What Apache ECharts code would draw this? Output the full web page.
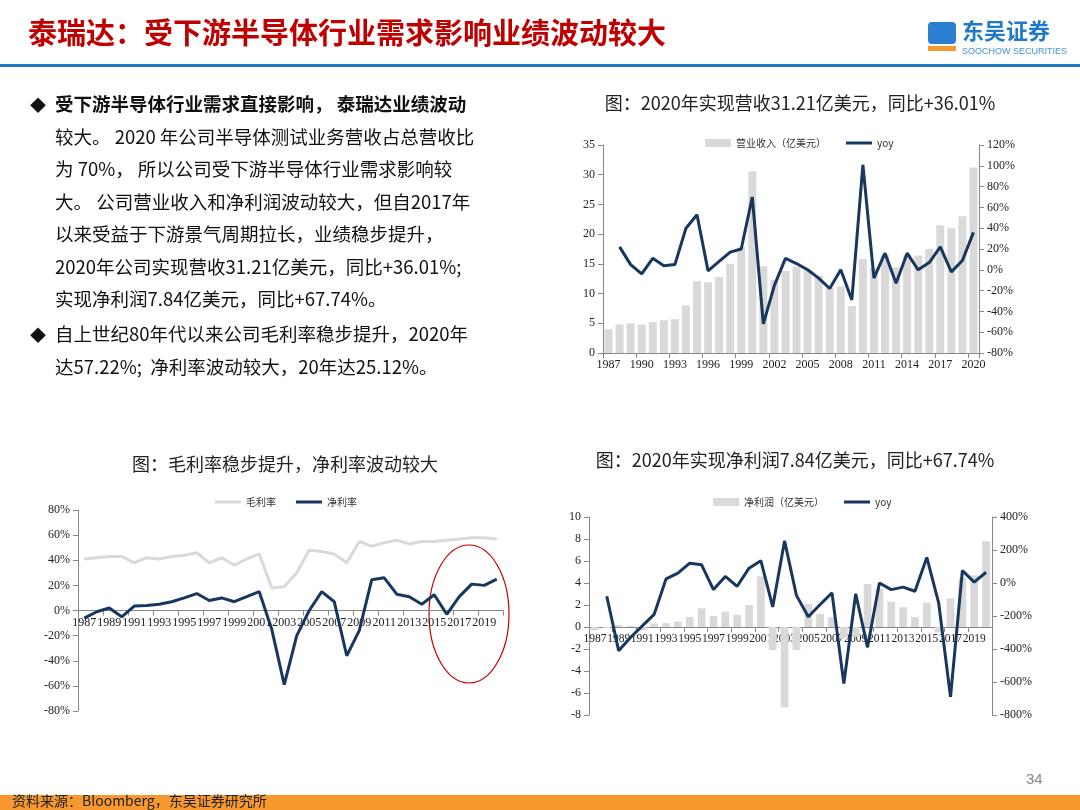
<!DOCTYPE html>
<html>
<head>
<meta charset="utf-8">
<script src="https://cdn.jsdelivr.net/npm/echarts@6/dist/echarts.min.js"></script>
<style>
html,body{margin:0;padding:0;background:#fff;}
#main{width:1080px;height:810px;}
</style>
</head>
<body>
<div id="main"></div>
<script>
var years = [];
for (var y = 1987; y <= 2020; y++) { years.push(String(y)); }

// 营业收入（亿美元）与 yoy
var revenue = [4.0,4.8,5.0,4.8,5.2,5.5,5.7,8.0,12.1,11.9,12.8,15.0,17.8,30.6,14.6,12.3,13.8,14.6,14.0,13.0,11.0,11.2,7.9,15.8,14.3,16.6,14.4,16.5,16.4,17.5,21.5,21.0,23.0,31.2];
var revenueYoy = [22,5,-4,11,4,5,40,53,-1,8,17,20,70,-52,-15,11,6,0,-8,-18,0,-29,101,-8,16,-13,16,0,7,22,-2,9,36];

// 毛利率 / 净利率
var grossMargin = [41,42,43,43,38,42,41,43,44,46,38,42,36,41,45,18,19,30,48,47,45,38,55,51,54,56,53,55,55,56,57,58,58,57];
var netMargin = [-6,-1,2,-5,3.5,4,5,7,10,13.5,8,10,7,11,15,-15,-59,-20,0,15,7,-36,-16,24.5,26,13,11,5,12.5,-3,11,21,20,25];

// 净利润（亿美元）与 yoy
var netProfit = [-0.3,-0.1,0.2,0.1,-0.3,0.3,0.35,0.5,0.9,1.7,1.0,1.4,1.1,2.0,4.6,-2.1,-7.3,-2.1,2.1,1.2,0.9,-1.0,-0.9,3.9,3.5,2.3,1.8,0.9,2.2,-0.5,2.6,4.5,4.7,7.8];
var profitYoy = [-80,-410,-330,-260,-190,25,60,120,110,-40,40,-20,90,135,-145,255,-75,-205,-130,-60,-610,-65,-390,0,-40,-25,-50,155,-120,-690,75,5,65];

var serif = '"Liberation Serif","Times New Roman",serif';
var cjk = '"Noto Sans CJK SC",sans-serif';
var navy = '#17375e';
var barGray = '#d9d9d9';
var lineGray = '#d9d9d9';
var lineIcon = 'path://M0,0L26,0L26,3L0,3Z';

var bulletLines = [
    ['◆', 108, '受下游半导体行业需求直接影响， 泰瑞达业绩波动', true],
    ['', 141, '较大。 2020 年公司半导体测试业务营收占总营收比', false],
    ['', 173, '为 70%， 所以公司受下游半导体行业需求影响较', false],
    ['', 206, '大。 公司营业收入和净利润波动较大，但自2017年', false],
    ['', 238, '以来受益于下游景气周期拉长，业绩稳步提升，', false],
    ['', 271, '2020年公司实现营收31.21亿美元，同比+36.01%;', false],
    ['', 303, '实现净利润7.84亿美元，同比+67.74%。', false],
    ['◆', 338, '自上世纪80年代以来公司毛利率稳步提升，2020年', false],
    ['', 371, '达57.22%;  净利率波动较大，20年达25.12%。', false]
];

var graphics = [
    {type: 'text', x: 28, y: 18, style: {text: '泰瑞达：受下游半导体行业需求影响业绩波动较大', font: 'bold 29px ' + cjk, fill: '#c00000'}},
    {type: 'rect', shape: {x: 0, y: 64, width: 1080, height: 3}, style: {fill: '#1f78c8'}},
    {type: 'text', x: 962, y: 20, style: {text: '东吴证券', font: 'bold 22px ' + cjk, fill: '#1f78c8'}},
    {type: 'text', x: 962, y: 47, style: {text: 'SOOCHOW SECURITIES', font: '9px "Liberation Sans",sans-serif', fill: '#4a90d0'}},
    {type: 'rect', shape: {x: 928, y: 22, width: 28, height: 22, r: 4}, style: {fill: '#2b7fd0'}},
    {type: 'rect', shape: {x: 928, y: 46, width: 28, height: 5}, style: {fill: '#f7992e'}},
    {type: 'rect', shape: {x: 0, y: 795, width: 1080, height: 15}, style: {fill: '#f7992e'}},
    {type: 'text', x: 12, y: 794, style: {text: '资料来源：Bloomberg，东吴证券研究所', font: '14px ' + cjk, fill: '#222'}},
    {type: 'text', x: 1026, y: 772, style: {text: '34', font: '15px "Liberation Sans",sans-serif', fill: '#888'}},
    {type: 'text', x: 800, y: 94, style: {text: '图：2020年实现营收31.21亿美元，同比+36.01%', font: '18px ' + cjk, fill: '#222', align: 'center'}},
    {type: 'text', x: 285, y: 455, style: {text: '图：毛利率稳步提升，净利率波动较大', font: '18px ' + cjk, fill: '#222', align: 'center'}},
    {type: 'text', x: 795, y: 451, style: {text: '图：2020年实现净利润7.84亿美元，同比+67.74%', font: '18px ' + cjk, fill: '#222', align: 'center'}},
    {type: 'ellipse', shape: {cx: 469, cy: 614, rx: 40, ry: 69}, style: {fill: 'none', stroke: '#c00000', lineWidth: 1.2}}
];
bulletLines.forEach(function (l) {
    if (l[0]) {
        graphics.push({type: 'text', x: 30, y: l[1] - 11, style: {text: l[0], font: '16px ' + cjk, fill: '#111'}});
    }
    graphics.push({type: 'text', x: 55, y: l[1] - 13, style: {text: l[2], font: (l[3] ? 'bold ' : '') + '18.5px ' + cjk, fill: '#111'}});
});

// offset moves the category axis up to the zero line
function catAxis(idx, interval, offset, size) {
    return {
        type: 'category', gridIndex: idx, data: years, offset: offset,
        axisLine: {onZero: false, lineStyle: {color: '#888'}},
        axisTick: {show: true, lineStyle: {color: '#888'}},
        axisLabel: {interval: interval, showMinLabel: true, hideOverlap: false, color: '#222', fontFamily: serif, fontSize: size, margin: 6}
    };
}
function valAxis(idx, min, max, step, fmt, pos) {
    return {
        type: 'value', gridIndex: idx, min: min, max: max, interval: step, position: pos,
        splitLine: {show: false},
        axisLine: {show: true, lineStyle: {color: '#888'}},
        axisTick: {show: true, lineStyle: {color: '#888'}},
        axisLabel: {color: '#222', fontFamily: serif, fontSize: 12, formatter: fmt}
    };
}
var pct = function (v) { return v + '%'; };
var legendText = {fontFamily: cjk, fontSize: 10, color: '#333'};

var option = {
    animation: false,
    graphic: graphics,
    legend: [
        {top: 133, left: 700, itemWidth: 26, itemHeight: 8, itemGap: 20, textStyle: legendText,
            data: [{name: '营业收入（亿美元）', icon: 'rect'}, {name: 'yoy', icon: lineIcon}]},
        {top: 492, left: 210, itemWidth: 26, itemHeight: 8, itemGap: 20, textStyle: legendText,
            data: [{name: '毛利率', icon: lineIcon}, {name: '净利率', icon: lineIcon}]},
        {top: 492, left: 708, itemWidth: 26, itemHeight: 8, itemGap: 20, textStyle: legendText,
            data: [{name: '净利润（亿美元）', icon: 'rect'}, {name: 'yoy ', icon: lineIcon}]}
    ],
    grid: [
        {left: 603, top: 145, width: 376, height: 208},
        {left: 78, top: 510, width: 425, height: 201},
        {left: 589, top: 517, width: 403, height: 198}
    ],
    xAxis: [
        catAxis(0, 2, 0, 12),
        catAxis(1, 1, -100.5, 12),
        catAxis(2, 1, -88, 11.5)
    ],
    yAxis: [
        valAxis(0, 0, 35, 5, null, 'left'),
        valAxis(0, -80, 120, 20, pct, 'right'),
        valAxis(1, -80, 80, 20, pct, 'left'),
        valAxis(2, -8, 10, 2, null, 'left'),
        valAxis(2, -800, 400, 200, pct, 'right')
    ],
    series: [
        {name: '营业收入（亿美元）', type: 'bar', xAxisIndex: 0, yAxisIndex: 0, data: revenue, barWidth: '72%', itemStyle: {color: barGray}},
        {name: 'yoy', type: 'line', xAxisIndex: 0, yAxisIndex: 1, data: [null].concat(revenueYoy), symbol: 'none', lineStyle: {color: navy, width: 3}, itemStyle: {color: navy}},
        {name: '毛利率', type: 'line', xAxisIndex: 1, yAxisIndex: 2, data: grossMargin, symbol: 'none', lineStyle: {color: lineGray, width: 3}, itemStyle: {color: lineGray}},
        {name: '净利率', type: 'line', xAxisIndex: 1, yAxisIndex: 2, data: netMargin, symbol: 'none', lineStyle: {color: navy, width: 3}, itemStyle: {color: navy}},
        {name: '净利润（亿美元）', type: 'bar', xAxisIndex: 2, yAxisIndex: 3, data: netProfit, barWidth: '65%', itemStyle: {color: barGray}},
        {name: 'yoy ', type: 'line', xAxisIndex: 2, yAxisIndex: 4, data: [null].concat(profitYoy), symbol: 'none', lineStyle: {color: navy, width: 3}, itemStyle: {color: navy}}
    ]
};
var chart = echarts.init(document.getElementById('main'));
chart.setOption(option);
</script>
</body>
</html>
